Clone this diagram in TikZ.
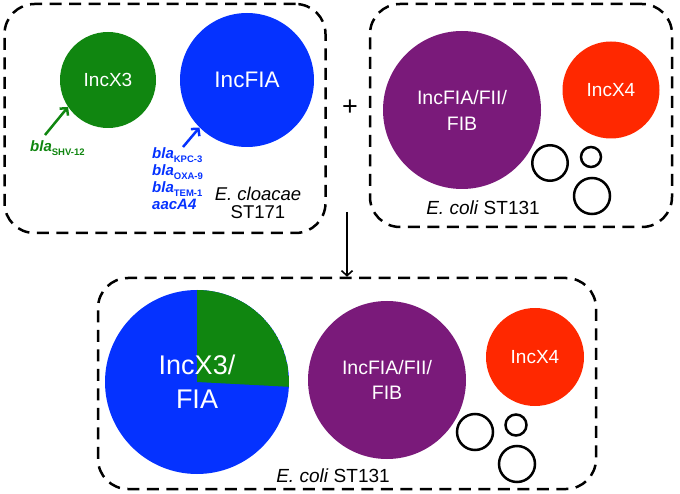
\documentclass[tikz,border=0pt]{standalone}
\usepackage{fontspec}
\setmainfont{Liberation Sans}
\usetikzlibrary{arrows.meta}
\definecolor{incgreen}{RGB}{16,134,16}
\definecolor{incblue}{RGB}{5,50,255}
\definecolor{incpurple}{RGB}{122,26,122}
\definecolor{incred}{RGB}{255,40,0}
\newcommand{\blagene}[1]{\textit{bla}\raisebox{-4pt}{\fontsize{9.5}{10}\selectfont\upshape #1}}
\begin{document}
\begin{tikzpicture}[x=1pt,y=-1pt,>={Straight Barb[length=5pt,width=11pt]},
	every node/.style={inner sep=0,font=\fontsize{19}{23}\selectfont},
	cell/.style={draw,line width=2.5pt,dash pattern=on 12pt off 7.5pt,rounded corners=30pt},
	plasmid/.style={circle,text=white,align=center},
	ring/.style={circle,draw,line width=2.5pt}]
	\useasboundingbox (0,0) rectangle (680,494);
	\node[cell,minimum width=321pt,minimum height=229pt] (cloacae) at (165,118.5) {};
	\node[cell,minimum width=302pt,minimum height=223pt] (coli) at (521,115.5) {};
	\node[cell,minimum width=498pt,minimum height=211pt] (merge) at (347,383.5) {};
	% E. cloacae ST171
	\node[plasmid,fill=incgreen,minimum size=96pt] (x3) at (108,80) {IncX3};
	\node[plasmid,fill=incblue,minimum size=134pt,font=\fontsize{22.5}{26}\selectfont] (fia) at (247,80) {IncFIA};
	\node[text=incgreen,anchor=base west,font=\fontsize{15}{17}\selectfont\bfseries] (shv) at (30,152) {\blagene{SHV-12}};
	\node[text=incblue,anchor=north west,align=left,font=\fontsize{15}{17}\selectfont\bfseries] (kpc) at (152,147.5)
		{\blagene{KPC-3}\\\blagene{OXA-9}\\\blagene{TEM-1}\\\textit{aacA4}};
	\coordinate (shvtail) at (45,135);
	\coordinate (kpctail) at (183,147);
	\draw[->,incgreen,line width=2.5pt] (shvtail) -- (x3.214);
	\draw[->,incblue,line width=2.5pt] (kpctail) -- (fia.225);
	\node[align=center,font=\fontsize{18.5}{18}\selectfont] (st171) at (258,203) {\textit{E. cloacae}\\ST171};
	\node[font=\fontsize{27}{27}\selectfont] (plus) at (350,108) {+};
	% E. coli ST131
	\node[plasmid,fill=incpurple,minimum size=158pt,font=\fontsize{19.5}{26}\selectfont] (fii) at (462,110) {IncFIA/FII/\\FIB};
	\node[plasmid,fill=incred,minimum size=97pt] (x4) at (611,90) {IncX4};
	\node[ring,minimum size=35.5pt] (r1) at (550,163) {};
	\node[ring,minimum size=20pt] (r2) at (591,157) {};
	\node[ring,minimum size=36pt] (r3) at (592,196) {};
	\node (st131) at (483,208) {\textit{E. coli} ST131};
	% transconjugant
	\coordinate (split) at (347,212);
	\draw[->,line width=1.6pt] (split) -- (merge.north);
	\node[plasmid,fill=incblue,minimum size=184pt,font=\fontsize{27}{34}\selectfont,
		path picture={\fill[incgreen] (path picture bounding box.center) -- ++(90:92pt)
			arc[start angle=90,end angle=-3,radius=92pt] -- cycle;}] (mix) at (197,382) {IncX3/\\FIA};
	\node[plasmid,fill=incpurple,minimum size=158pt,font=\fontsize{19.5}{25}\selectfont] (fii2) at (387,380) {IncFIA/FII/\\FIB};
	\node[plasmid,fill=incred,minimum size=98pt] (x42) at (535,357) {IncX4};
	\node[ring,minimum size=36pt] (r4) at (475,432) {};
	\node[ring,minimum size=21pt] (r5) at (516,425) {};
	\node[ring,minimum size=36pt] (r6) at (517,464) {};
	\node (st131b) at (333,476) {\textit{E. coli} ST131};
\end{tikzpicture}
\end{document}
